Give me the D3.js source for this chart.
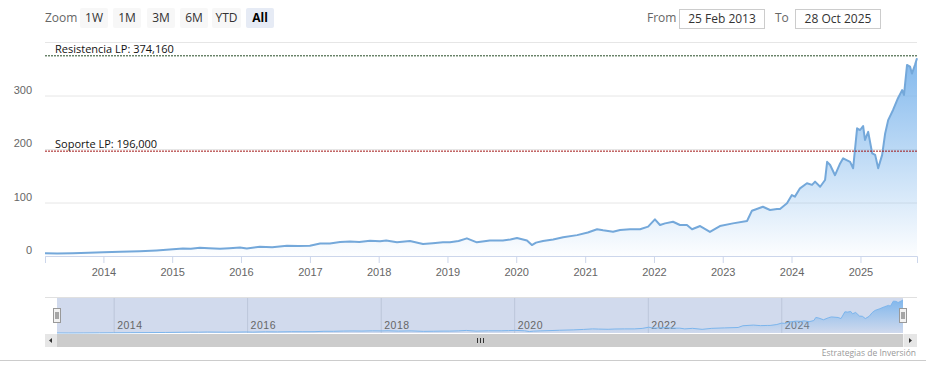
<!DOCTYPE html>
<html>
<head>
<meta charset="utf-8">
<script src="https://cdn.jsdelivr.net/npm/d3@7"></script>
<style>
  body { margin: 0; background: #fff; }
  svg { font-family: "Open Sans", "Noto Sans", sans-serif; display: block; }
  .grid line { stroke: #e6e6e6; }
  .grid .domain { display: none; }
  .tick text { fill: #666; font-size: 11px; }
</style>
</head>
<body>
<svg width="930" height="373"></svg>
<script>
  const svg = d3.select('svg');
  const width = +svg.attr('width');
  const height = +svg.attr('height');

  // precio (fechas)
  const dates = [
    '2013-02-25','2013-05-01','2013-07-22','2013-10-15','2014-01-01','2014-04-01','2014-07-13','2014-10-10',
    '2015-01-05','2015-02-27','2015-04-10','2015-05-28','2015-07-15','2015-09-12','2015-11-01','2015-12-27',
    '2016-02-01','2016-04-10','2016-06-15','2016-09-01','2016-11-01','2017-01-01','2017-02-24','2017-04-17',
    '2017-06-10','2017-08-02','2017-09-20','2017-11-16','2018-01-08','2018-02-10','2018-04-08','2018-06-16',
    '2018-08-24','2018-10-15','2018-12-08','2019-01-14','2019-03-01','2019-04-14','2019-06-06','2019-08-14',
    '2019-10-22','2019-12-01','2020-01-05','2020-02-27','2020-03-24','2020-04-15','2020-05-22','2020-07-15',
    '2020-09-06','2020-11-19','2021-01-15','2021-03-05','2021-04-06','2021-05-29','2021-07-05','2021-08-27',
    '2021-10-19','2021-12-01','2022-01-06','2022-02-02','2022-03-01','2022-04-12','2022-05-19','2022-06-25',
    '2022-07-22','2022-09-03','2022-10-25','2022-12-17','2023-02-24','2023-05-10','2023-06-05','2023-08-02',
    '2023-09-09','2023-10-16','2023-11-01','2023-12-08','2024-01-03','2024-01-19','2024-02-15','2024-03-23',
    '2024-04-19','2024-05-05','2024-06-01','2024-06-27','2024-07-08','2024-07-24','2024-08-19','2024-09-15',
    '2024-10-01','2024-11-07','2024-11-23','2024-12-14','2024-12-30','2025-01-15','2025-01-25','2025-02-11',
    '2025-03-04','2025-03-20','2025-04-05','2025-04-26','2025-05-12','2025-05-28','2025-06-23','2025-07-19',
    '2025-08-10','2025-08-20','2025-09-05','2025-09-21','2025-10-01','2025-10-17','2025-10-28'
  ];
  const prices = [
    5, 4.5, 5, 6, 7, 8, 9, 10.5,
    12.5, 14, 13.5, 15.5, 14.5, 13.5, 14.5, 16,
    14, 17.5, 16.5, 19, 18.5, 19, 23.5, 23.5,
    26, 27, 26, 28.5, 27.5, 29, 25.5, 28,
    22.5, 24, 25.5, 25.5, 28, 33, 25.5, 29,
    29, 31, 33.5, 29, 20.5, 25, 28, 31,
    35, 39, 44, 50, 48, 45.5, 48.6, 50,
    50, 55, 68.5, 58, 61, 64, 58, 58,
    50, 56, 45, 56, 61, 65.5, 84.7, 92,
    86, 88, 88, 98.5, 114, 111, 126.5, 136,
    133, 139, 129.5, 142, 176, 170, 151, 173,
    182.5, 176, 164, 238.6, 235.5, 243, 217, 232,
    192, 189, 164, 189, 229, 254, 273, 295,
    310, 301, 357, 354, 341, 357, 369.5
  ];

  const yTicks = [0, 100, 200, 300, 400];
  const xYears = [2014, 2015, 2016, 2017, 2018, 2019, 2020, 2021, 2022, 2023, 2024, 2025];
  const navYears = [2014, 2016, 2018, 2020, 2022, 2024];
  const zoomButtons = ['1W', '1M', '3M', '6M', 'YTD', 'All'];
  const plotLines = [
    { value: 374.16, label: 'Resistencia LP: 374,160', color: '#244a24' },
    { value: 196, label: 'Soporte LP: 196,000', color: '#a01010' }
  ];
  const fromDate = '25 Feb 2013';
  const toDate = '28 Oct 2025';

  const parse = d3.timeParse('%Y-%m-%d');
  const data = dates.map((d, i) => ({ date: parse(d), value: prices[i] }));

  const margin = { top: 42, right: 13, bottom: 117, left: 45 };
  const innerWidth = width - margin.left - margin.right;
  const innerHeight = height - margin.top - margin.bottom;

  const xScale = d3.scaleTime()
    .domain(d3.extent(data, d => d.date))
    .range([0, innerWidth]);
  const yScale = d3.scaleLinear()
    .domain([0, 400])
    .range([innerHeight, 0]);

  const defs = svg.append('defs');
  const grad = defs.append('linearGradient')
    .attr('id', 'areaGrad').attr('x1', 0).attr('y1', 0).attr('x2', 0).attr('y2', 1);
  grad.append('stop').attr('offset', 0).attr('stop-color', '#7cb5ec').attr('stop-opacity', 0.95);
  grad.append('stop').attr('offset', 1).attr('stop-color', '#7cb5ec').attr('stop-opacity', 0.02);

  // --- range selector ---
  const selector = svg.append('g');
  selector.append('text').attr('x', 45).attr('y', 22)
    .attr('fill', '#666').style('font-size', '12px').text('Zoom');
  const btnX = [80, 113, 147, 180, 212, 246];
  const btnW = [28, 28, 28, 28, 29, 28];
  zoomButtons.forEach((b, i) => {
    const sel = b === 'All';
    selector.append('rect').attr('x', btnX[i]).attr('y', 8).attr('width', btnW[i]).attr('height', 20)
      .attr('rx', 2).attr('fill', sel ? '#e6ebf5' : '#f7f7f7');
    selector.append('text').attr('x', btnX[i] + btnW[i] / 2).attr('y', 22)
      .attr('text-anchor', 'middle').attr('fill', sel ? '#000' : '#333')
      .style('font-size', '12px').style('font-weight', sel ? 'bold' : 'normal').text(b);
  });
  selector.append('text').attr('x', 647).attr('y', 22).attr('fill', '#666').style('font-size', '12px').text('From');
  selector.append('rect').attr('x', 679.5).attr('y', 9.5).attr('width', 85).attr('height', 19)
    .attr('fill', '#fff').attr('stroke', '#ccc');
  selector.append('text').attr('x', 722).attr('y', 23).attr('text-anchor', 'middle')
    .attr('fill', '#333').style('font-size', '12px').text(fromDate);
  selector.append('text').attr('x', 775).attr('y', 22).attr('fill', '#666').style('font-size', '12px').text('To');
  selector.append('rect').attr('x', 795.5).attr('y', 9.5).attr('width', 85).attr('height', 19)
    .attr('fill', '#fff').attr('stroke', '#ccc');
  selector.append('text').attr('x', 838).attr('y', 23).attr('text-anchor', 'middle')
    .attr('fill', '#333').style('font-size', '12px').text(toDate);

  // --- main plot ---
  const g = svg.append('g')
    .attr('transform', `translate(${margin.left},${margin.top})`);

  const yAxis = d3.axisLeft(yScale)
    .tickValues(yTicks)
    .tickSize(-innerWidth)
    .tickPadding(13)
    .tickFormat(d => d === 400 ? '' : d);
  const yAxisG = g.append('g').attr('class', 'grid').call(yAxis);
  yAxisG.selectAll('text').attr('dy', '-0.2em');

  const areaGen = d3.area()
    .x(d => xScale(d.date))
    .y0(innerHeight)
    .y1(d => yScale(d.value));
  const lineGen = d3.line()
    .x(d => xScale(d.date))
    .y(d => yScale(d.value));

  g.append('path').attr('d', areaGen(data)).attr('fill', 'url(#areaGrad)');
  g.append('path').attr('d', lineGen(data))
    .attr('fill', 'none').attr('stroke', '#74a8da').attr('stroke-width', 2)
    .attr('stroke-linejoin', 'round');

  const xAxis = d3.axisBottom(xScale)
    .tickValues(xYears.map(y => new Date(y, 0, 1)))
    .tickFormat(d3.timeFormat('%Y'))
    .tickSize(7)
    .tickPadding(5);
  const xAxisG = g.append('g')
    .attr('transform', `translate(0,${innerHeight})`)
    .call(xAxis);
  xAxisG.select('.domain').attr('stroke', '#ccd6eb');
  xAxisG.selectAll('line').attr('stroke', '#ccd6eb');

  plotLines.forEach(p => {
    g.append('line')
      .attr('x1', 0).attr('x2', innerWidth)
      .attr('y1', yScale(p.value)).attr('y2', yScale(p.value))
      .attr('stroke', p.color).attr('stroke-dasharray', '2,1').attr('stroke-width', 1);
    g.append('text')
      .attr('x', 10).attr('y', yScale(p.value) - 3)
      .attr('fill', '#111').style('font-size', '11px')
      .text(p.label);
  });

  // --- navigator ---
  const navTop = 297, navBottom = 333;
  const nx = d3.scaleTime().domain(xScale.domain()).range([57, 903]);
  const ny = d3.scaleLinear().domain(d3.extent(prices)).range([navBottom, 300]);
  const nav = svg.append('g');

  nav.append('rect').attr('x', 57).attr('y', navTop).attr('width', 846).attr('height', navBottom - navTop)
    .attr('fill', 'rgba(102,133,194,0.3)');
  const navAxis = d3.axisBottom(nx)
    .tickValues(navYears.map(y => new Date(y, 0, 1)))
    .tickFormat(d3.timeFormat('%Y'))
    .tickSize(-(navBottom - navTop))
    .tickPadding(0);
  const navAxisG = nav.append('g').attr('transform', `translate(0,${navBottom})`).call(navAxis);
  navAxisG.select('.domain').remove();
  navAxisG.selectAll('line').attr('stroke', '#bcc6da');
  navAxisG.selectAll('text').attr('text-anchor', 'start').attr('x', 3).attr('y', -4).attr('dy', 0)
    .attr('fill', '#999').style('font-size', '10.5px').style('letter-spacing', '0.5px');

  nav.append('path')
    .attr('d', d3.area().x(d => nx(d.date)).y0(navBottom).y1(d => ny(d.value))(data))
    .attr('fill', 'url(#areaGrad)');
  nav.append('path')
    .attr('d', d3.line().x(d => nx(d.date)).y(d => ny(d.value))(data))
    .attr('fill', 'none').attr('stroke', '#7cb5ec').attr('stroke-width', 1);
  nav.append('line').attr('x1', 45).attr('x2', 917).attr('y1', navTop + 0.5).attr('y2', navTop + 0.5)
    .attr('stroke', '#e0e0e0');

  [57, 903].forEach(hx => {
    nav.append('rect').attr('x', hx - 3.5).attr('y', 308.5).attr('width', 7).attr('height', 14)
      .attr('fill', '#f2f2f2').attr('stroke', '#999');
    nav.append('path').attr('d', `M${hx - 1},312 V319 M${hx + 1},312 V319`)
      .attr('stroke', '#333').attr('stroke-width', 0.8);
  });

  // scrollbar
  nav.append('rect').attr('x', 45).attr('y', 334).attr('width', 872).attr('height', 13).attr('fill', '#f2f2f2');
  nav.append('rect').attr('x', 57).attr('y', 334).attr('width', 846).attr('height', 13).attr('fill', '#cccccc');
  nav.append('rect').attr('x', 45).attr('y', 334).attr('width', 12).attr('height', 13).attr('fill', '#e6e6e6');
  nav.append('rect').attr('x', 904).attr('y', 334).attr('width', 13).attr('height', 13).attr('fill', '#e6e6e6');
  nav.append('path').attr('d', 'M49,340.5 L52,338 L52,343 Z').attr('fill', '#333');
  nav.append('path').attr('d', 'M912,340.5 L909,338 L909,343 Z').attr('fill', '#333');
  nav.append('path').attr('d', 'M477.5,338 V343 M480.5,338 V343 M483.5,338 V343')
    .attr('stroke', '#333').attr('stroke-width', 1);

  // bottom border and credits
  svg.append('line').attr('x1', 0).attr('x2', 926).attr('y1', 360.5).attr('y2', 360.5).attr('stroke', '#ccc');
  svg.append('text').attr('x', 916).attr('y', 356).attr('text-anchor', 'end')
    .attr('fill', '#999').style('font-size', '8.5px').text('Estrategias de Inversión');
</script>
</body>
</html>
